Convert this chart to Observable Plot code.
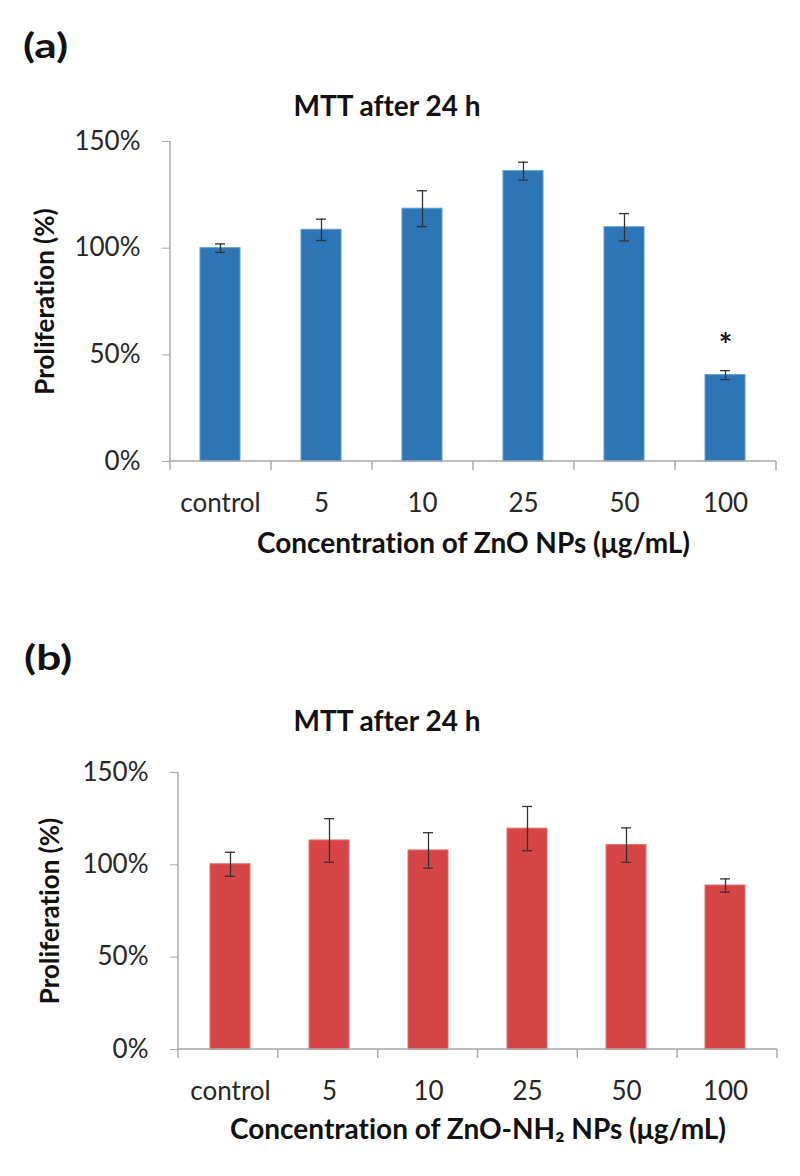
<!DOCTYPE html>
<html><head><meta charset="utf-8">
<script src="https://cdn.jsdelivr.net/npm/d3@7"></script>
<script src="https://cdn.jsdelivr.net/npm/@observablehq/plot@0.6"></script>
<style>
body{margin:0;background:#fff;}
#root{position:relative;width:800px;height:1176px;font-family:Lato, sans-serif;color:#111;font-variant-ligatures:none;}
#root svg text{font-variant-ligatures:none;}
.abs{position:absolute;line-height:1;white-space:nowrap;font-weight:bold;}
.svgwrap{position:absolute;left:0;}
</style></head><body><div id="root"></div>
<script>
const categories = ["control", "5", "10", "25", "50", "100"];
const znoMean = [100, 108.6, 118.5, 136.1, 109.8, 40.5];
const znoSd = [2, 5, 8.4, 4.2, 6.4, 2.1];
const znoSignif = ["", "", "", "", "", "*"];
const nh2Mean = [100.3, 113.2, 107.8, 119.6, 110.7, 88.8];
const nh2Sd = [6.5, 11.8, 9.6, 12, 9.3, 3.6];
const nh2Signif = ["", "", "", "", "", ""];
const yTicks = [0, 50, 100, 150];
const chartTitle = "MTT after 24 h";
const yTitle = "Proliferation (%)";
const xTitleA = "Concentration of ZnO NPs (μg/mL)";
const xTitleB = "Concentration of ZnO-NH₂ NPs (μg/mL)";

function excelAxes(n, tickLen) {
  return (index, scales, values, dims) => {
    const {width, marginLeft, marginRight} = dims;
    const g = d3.create("svg:g").attr("stroke", "#a6a6a6").attr("stroke-width", 1.4).attr("fill", "none");
    const x0 = marginLeft, x1 = width - marginRight;
    const yb = scales.y(yTicks[0]), yt = scales.y(yTicks[yTicks.length - 1]);
    g.append("line").attr("x1", x0).attr("x2", x0).attr("y1", yt).attr("y2", yb);
    g.append("line").attr("x1", x0).attr("x2", x1).attr("y1", yb).attr("y2", yb);
    const step = (x1 - x0) / n;
    for (let i = 0; i <= n; i++) {
      g.append("line").attr("x1", x0 + i * step).attr("x2", x0 + i * step).attr("y1", yb).attr("y2", yb + tickLen);
    }
    return g.node();
  };
}

function panel({mean, sd, signif, color, edge, height, ml, mr, mt, mb, xTitle, xSize, xDy, yDx}) {
  const data = categories.map((c, i) => ({c, m: mean[i], lo: mean[i] - sd[i], hi: mean[i] + sd[i], s: signif[i]}));
  return Plot.plot({
    width: 800, height, marginLeft: ml, marginRight: mr, marginTop: mt, marginBottom: mb,
    style: {fontFamily: "Lato, sans-serif", fontSize: "26px", background: "transparent", color: "#262626", overflow: "visible"},
    x: {domain: categories, paddingInner: 0.6, paddingOuter: 0.3, label: null},
    y: {domain: [yTicks[0], yTicks[yTicks.length - 1]], label: null},
    marks: [
      Plot.barY(data, {x: "c", y: "m", fill: color, stroke: edge, strokeWidth: 1}),
      Plot.ruleX(data, {x: "c", y1: "lo", y2: "hi", stroke: "#333", strokeWidth: 1.3}),
      Plot.tickY(data, {x: "c", y: "lo", stroke: "#333", strokeWidth: 1.3, insetLeft: 15, insetRight: 15}),
      Plot.tickY(data, {x: "c", y: "hi", stroke: "#333", strokeWidth: 1.3, insetLeft: 15, insetRight: 15}),
      Plot.text(data, {x: "c", y: "hi", text: "s", dy: -24, fontSize: 32, fontWeight: "bold", fill: "#111"}),
      excelAxes(categories.length, 9),
      Plot.axisY({ticks: yTicks, tickSize: 8, tickPadding: 22, tickFormat: d => d + "%", stroke: "#a6a6a6", fill: "#262626", label: null}),
      Plot.axisX({tickSize: 0, tickPadding: 32, label: null, fill: "#262626"}),
      Plot.text([yTitle], {text: d => d, frameAnchor: "left", textAnchor: "middle", rotate: -90, dx: yDx, fontWeight: "bold", fontSize: 26, fill: "#111"}),
      Plot.text([xTitle], {text: d => d, frameAnchor: "bottom", textAnchor: "middle", dy: xDy, fontWeight: "bold", fontSize: xSize, fill: "#111"})
    ]
  });
}

const root = document.getElementById("root");
function addText(txt, left, top, size, center, sx) {
  const d = document.createElement("div");
  d.className = "abs";
  d.textContent = txt;
  d.style.top = top + "px";
  d.style.fontSize = size + "px";
  if (center) { d.style.left = (center - 200) + "px"; d.style.width = "400px"; d.style.textAlign = "center"; }
  else d.style.left = left + "px";
  if (sx) { d.style.transform = "scaleX(" + sx + ")"; d.style.transformOrigin = "left top"; }
  root.appendChild(d);
}
addText("(a)", 23, 28, 34, null, 1.3);
addText(chartTitle, 0, 91, 28, 387);
addText("(b)", 24, 640, 34, null, 1.3);
addText(chartTitle, 0, 706, 28, 387);

const wa = document.createElement("div"); wa.className = "svgwrap"; wa.style.top = "125px";
wa.appendChild(panel({mean: znoMean, sd: znoSd, signif: znoSignif, color: "#2E75B6", edge: "#5B9BD5", height: 440, ml: 170, mr: 24, mt: 16, mb: 104, xTitle: xTitleA, xSize: 28, xDy: 91, yDx: -125}));
root.appendChild(wa);
const wb = document.createElement("div"); wb.className = "svgwrap"; wb.style.top = "755px";
wb.appendChild(panel({mean: nh2Mean, sd: nh2Sd, signif: nh2Signif, color: "#D64545", edge: "#E07070", height: 421, ml: 178, mr: 23, mt: 17, mb: 127, xTitle: xTitleB, xSize: 28, xDy: 89, yDx: -128}));
root.appendChild(wb);
</script></body></html>
